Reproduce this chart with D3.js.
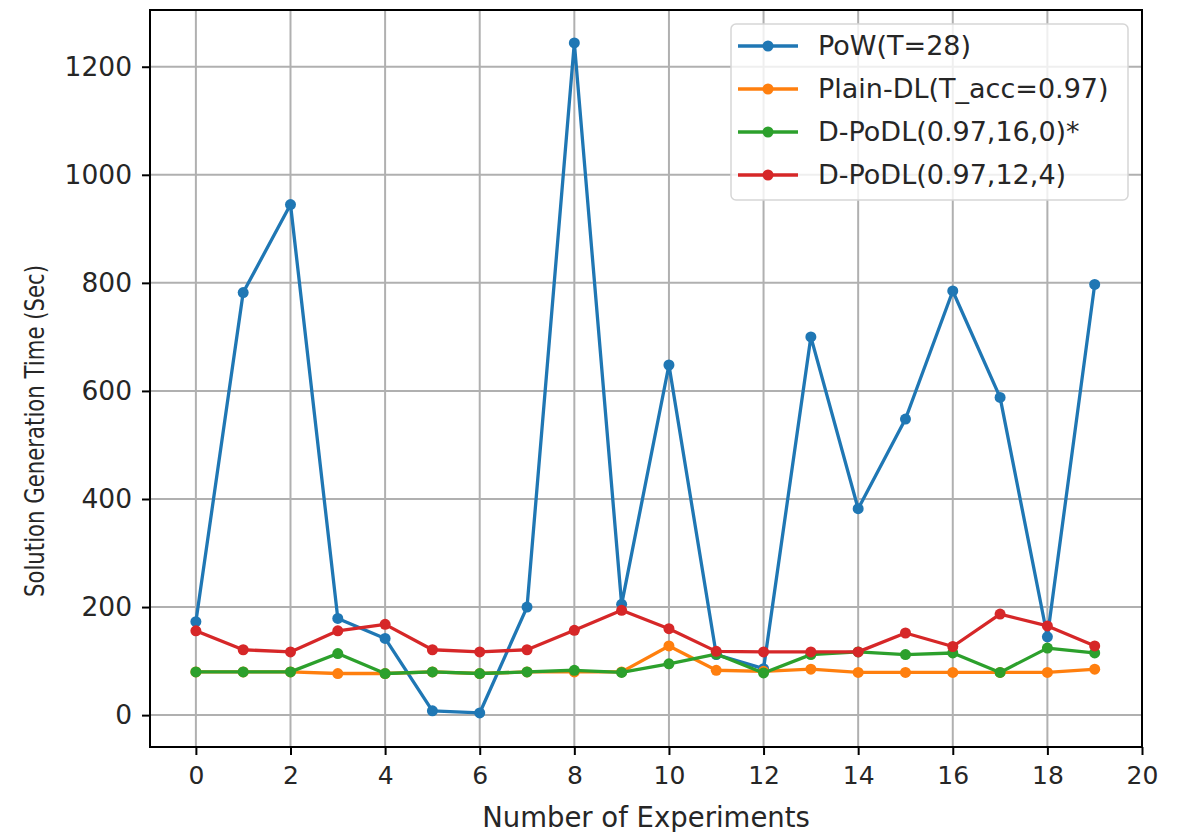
<!DOCTYPE html>
<html>
<head>
<meta charset="utf-8">
<script src="https://cdn.jsdelivr.net/npm/d3@7"></script>
<style>
  html, body { margin: 0; padding: 0; background: #fff; }
  text { font-family: 'DejaVu Sans', sans-serif; fill: #262626; }
</style>
</head>
<body>
<svg id="chart" width="1185" height="832"></svg>
<script>
// experiment index 0..19
const experiments = d3.range(0, 20)

const seriesNames = [
  'PoW(T=28)',
  'Plain-DL(T_acc=0.97)',
  'D-PoDL(0.97,16,0)*',
  'D-PoDL(0.97,12,4)'
]
const seriesColors = ['#1f77b4', '#ff7f0e', '#2ca02c', '#d62728']

const powTimes = [173, 782, 945, 179, 142, 8, 4, 200, 1244, 205, 648, 112, 86, 700, 382, 548, 785, 588, 145, 797]
const plainTimes = [80, 80, 80, 77, 77, 80, 77, 80, 80, 80, 128, 83, 81, 85, 79, 79, 79, 79, 79, 85]
const podl16Times = [80, 80, 80, 114, 77, 80, 77, 80, 83, 79, 95, 113, 78, 112, 117, 112, 115, 79, 124, 115]
const podl12Times = [156, 121, 117, 156, 168, 121, 117, 121, 157, 194, 160, 118, 117, 117, 117, 152, 127, 187, 165, 128]

const xTicks = d3.range(0, 21, 2)
const yTicks = [0, 200, 400, 600, 800, 1000, 1200]

const MARGINS = { top: 10, right: 43, bottom: 85, left: 150 }

const svg = d3.select('#chart')
const width = +svg.attr('width') - MARGINS.left - MARGINS.right
const height = +svg.attr('height') - MARGINS.top - MARGINS.bottom

const scaleX = d3.scaleLinear().domain([-0.97, 20]).range([0, width])
const scaleY = d3.scaleLinear().domain([-59, 1305]).range([height, 0])

const g = svg.append('g')
  .attr('transform', 'translate(' + MARGINS.left + ',' + MARGINS.top + ')')

// grid
g.append('g')
  .selectAll('line')
  .data(xTicks)
  .enter()
  .append('line')
  .attr('x1', d => scaleX(d)).attr('x2', d => scaleX(d))
  .attr('y1', 0).attr('y2', height)
  .attr('stroke', '#b0b0b0').attr('stroke-width', 2)

g.append('g')
  .selectAll('line')
  .data(yTicks)
  .enter()
  .append('line')
  .attr('y1', d => scaleY(d)).attr('y2', d => scaleY(d))
  .attr('x1', 0).attr('x2', width)
  .attr('stroke', '#b0b0b0').attr('stroke-width', 2)

// axes
const xAxis = g.append('g')
  .attr('transform', 'translate(0,' + height + ')')
  .call(d3.axisBottom(scaleX).tickValues(xTicks).tickSize(8).tickPadding(8).tickFormat(d3.format('d')))

const yAxis = g.append('g')
  .call(d3.axisLeft(scaleY).tickValues(yTicks).tickSize(8).tickPadding(10).tickFormat(d3.format('d')))

;[xAxis, yAxis].forEach(ax => {
  ax.select('.domain').remove()
  ax.selectAll('.tick line').attr('stroke', '#000').attr('stroke-width', 2)
  ax.selectAll('.tick text')
    .style('font-family', "'DejaVu Sans', sans-serif")
    .attr('fill', '#262626')
})
xAxis.selectAll('.tick text').attr('dy', '0.85em').style('font-size', '25px')
yAxis.selectAll('.tick text').style('font-size', '26.5px')

// lines + markers
const allSeries = [powTimes, plainTimes, podl16Times, podl12Times]

const line = d3.line()
  .x((d, i) => scaleX(experiments[i]))
  .y(d => scaleY(d))

allSeries.forEach((values, k) => {
  g.append('path')
    .datum(values)
    .attr('d', line)
    .attr('fill', 'none')
    .attr('stroke', seriesColors[k])
    .attr('stroke-width', 3.3)
    .attr('stroke-linejoin', 'round')
    .attr('stroke-linecap', 'square')

  g.append('g')
    .selectAll('circle')
    .data(values)
    .enter()
    .append('circle')
    .attr('cx', (d, i) => scaleX(experiments[i]))
    .attr('cy', d => scaleY(d))
    .attr('r', 5.5)
    .attr('fill', seriesColors[k])
})

// frame
g.append('rect')
  .attr('width', width).attr('height', height)
  .attr('fill', 'none').attr('stroke', '#000').attr('stroke-width', 2)

// legend
const legend = g.append('g').attr('transform', 'translate(' + (731 - MARGINS.left) + ',' + (24 - MARGINS.top) + ')')
legend.append('rect')
  .attr('width', 397).attr('height', 176)
  .attr('rx', 5)
  .attr('fill', '#fff').attr('fill-opacity', 0.8)
  .attr('stroke', '#d6d6d6').attr('stroke-width', 1.5)

seriesNames.forEach((name, k) => {
  const row = legend.append('g').attr('transform', 'translate(0,' + (22 + k * 43) + ')')
  row.append('line')
    .attr('x1', 7).attr('x2', 67)
    .attr('stroke', seriesColors[k]).attr('stroke-width', 3.3)
  row.append('circle').attr('cx', 37).attr('r', 5.5).attr('fill', seriesColors[k])
  row.append('text')
    .attr('x', 87).attr('dy', '0.35em')
    .style('font-size', '27px')
    .text(name)
})

// axis labels
svg.append('text')
  .attr('x', MARGINS.left + width / 2)
  .attr('y', 827)
  .attr('text-anchor', 'middle')
  .style('font-size', '27.5px')
  .text('Number of Experiments')

svg.append('text')
  .attr('transform', 'translate(44,' + (MARGINS.top + 421) + ') rotate(-90)')
  .attr('text-anchor', 'middle')
  .attr('textLength', 332)
  .attr('lengthAdjust', 'spacingAndGlyphs')
  .style('font-size', '27px')
  .text('Solution Generation Time (Sec)')
</script>
</body>
</html>
